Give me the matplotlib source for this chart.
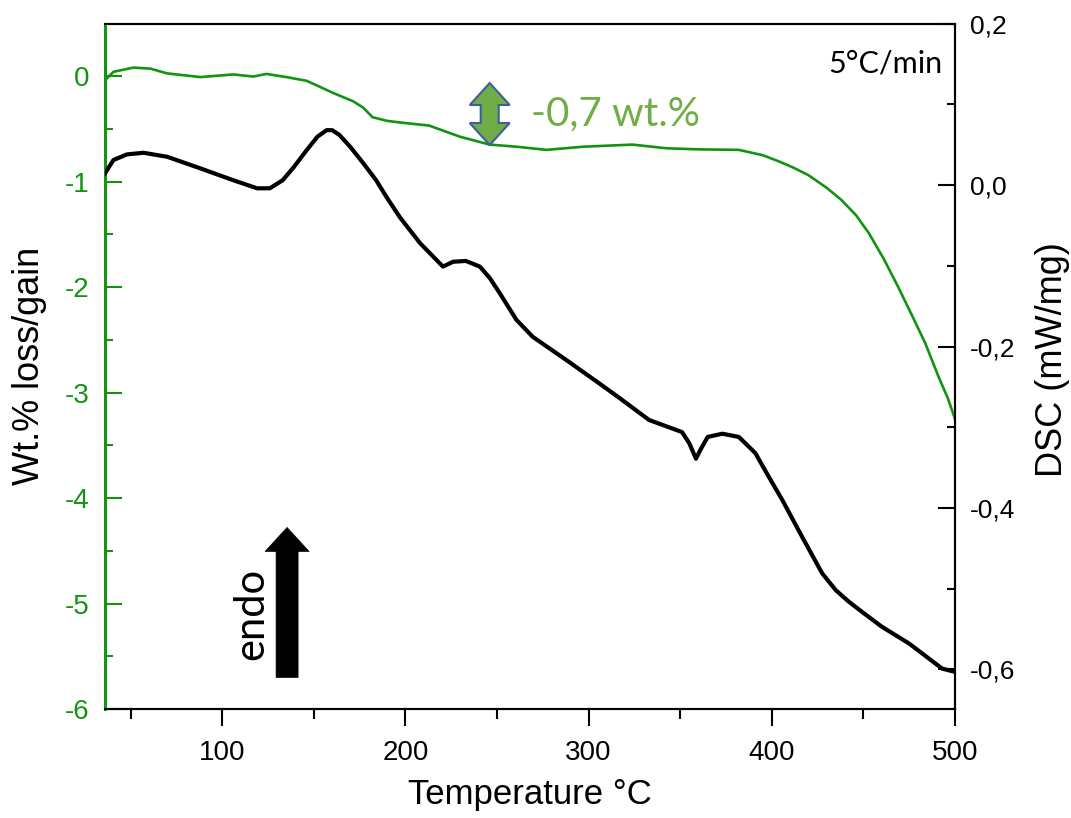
import matplotlib
matplotlib.use("Agg")
import matplotlib.pyplot as plt
import matplotlib.transforms as mtransforms
from matplotlib.patches import Polygon
from matplotlib.ticker import MultipleLocator, FuncFormatter

# ---- data ----
temp_tg = [36, 40.6, 51.5, 60.8, 69.9, 88, 106, 117, 124, 135, 146, 153, 160.5, 171.5, 177,
           182, 190, 197, 213, 229.7, 246, 260.6, 277, 297, 324, 342.5, 360, 382, 395, 404,
           412, 420, 430, 438, 446, 453, 461, 469, 476, 483.7, 491, 496, 500]
wt_change = [-0.04, 0.04, 0.08, 0.07, 0.025, -0.01, 0.015, -0.005, 0.02, -0.01, -0.045,
             -0.10, -0.16, -0.24, -0.30, -0.39, -0.425, -0.44, -0.47, -0.575, -0.65, -0.67,
             -0.70, -0.67, -0.65, -0.685, -0.695, -0.70, -0.75, -0.81, -0.87, -0.94, -1.06,
             -1.175, -1.32, -1.49, -1.73, -2.0, -2.25, -2.53, -2.85, -3.05, -3.25]

temp_dsc = [36, 40.6, 48, 57, 70, 88, 106, 119, 126, 133, 139, 146, 152, 157, 160, 164, 170,
            177, 184, 190, 197, 208, 220.5, 226, 233, 240.6, 246, 251.5, 260.6, 269.5, 288,
            306, 317, 333, 351, 355, 358.6, 361, 365, 373, 382, 391, 398, 405.7, 416.6,
            427.5, 435, 442, 450, 460, 475, 493, 500]
dsc = [0.0145, 0.031, 0.038, 0.040, 0.035, 0.0207, 0.006, -0.004, -0.004, 0.006, 0.022,
       0.043, 0.060, 0.068, 0.068, 0.062, 0.047, 0.027, 0.006, -0.016, -0.040, -0.072,
       -0.101, -0.095, -0.094, -0.101, -0.115, -0.134, -0.167, -0.188, -0.217, -0.246,
       -0.264, -0.291, -0.306, -0.320, -0.339, -0.328, -0.312, -0.308, -0.312, -0.332,
       -0.360, -0.390, -0.436, -0.481, -0.502, -0.516, -0.530, -0.547, -0.568, -0.599,
       -0.603]

x_ticks = [100, 200, 300, 400, 500]
left_ticks = [0, -1, -2, -3, -4, -5, -6]
right_ticks = [0.2, 0.0, -0.2, -0.4, -0.6]

GREEN = "#129412"
LIGHT_GREEN = "#70AD47"
ARIAL = ["Liberation Sans", "DejaVu Sans"]
CAL = ["Lato", "DejaVu Sans"]

fig = plt.figure(figsize=(10.71, 8.18), dpi=100)
ax = fig.add_axes([105/1071, 1 - 709/818, 850/1071, (709 - 23.6)/818])
ax2 = ax.twinx()

ax.plot(temp_tg, wt_change, color=GREEN, lw=1.9, zorder=3, solid_joinstyle="round")
ax2.plot(temp_dsc, dsc, color="black", lw=3.0, zorder=3, solid_joinstyle="round")

ax.set_xlim(36, 500)
ax.set_ylim(-6, 0.497)
ax2.set_ylim(-0.649, 0.2)

ax.set_xticks(x_ticks)
ax.xaxis.set_minor_locator(MultipleLocator(50))
ax.set_yticks(left_ticks)
ax.yaxis.set_minor_locator(MultipleLocator(0.5))
ax2.set_yticks(right_ticks)
ax2.yaxis.set_minor_locator(MultipleLocator(0.1))
ax2.yaxis.set_major_formatter(FuncFormatter(
    lambda v, p: "0,0" if abs(v) < 1e-9 else f"{v:.1f}".replace(".", ",")))
ax.yaxis.set_major_formatter(FuncFormatter(
    lambda v, p: "0" if abs(v) < 1e-9 else f"{v:.0f}"))

ax.tick_params(axis="x", which="major", direction="out", length=12, width=1.5, pad=10,
               labelsize=20, color="black")
ax.tick_params(axis="x", which="minor", direction="out", length=7, width=1.5)
ax.tick_params(axis="y", which="major", direction="in", length=12, width=1.5, pad=11,
               labelsize=20, color=GREEN, labelcolor=GREEN)
ax.tick_params(axis="y", which="minor", direction="in", length=6, width=1.5, color=GREEN)
ax2.tick_params(axis="y", which="major", direction="in", length=12, width=1.5, pad=11,
                labelsize=19, color="black")
ax2.tick_params(axis="y", which="minor", direction="in", length=6, width=1.5, color="black")
ax2.tick_params(axis="x", which="both", top=False)

for lab in ax.get_xticklabels() + ax.get_yticklabels() + ax2.get_yticklabels():
    lab.set_family(ARIAL)

for s in ["top", "right", "bottom"]:
    ax.spines[s].set_color("black")
    ax.spines[s].set_linewidth(1.5)
    ax2.spines[s].set_linewidth(1.5)
ax2.spines["left"].set_color(GREEN)
ax2.spines["left"].set_linewidth(2.0)
ax.spines["left"].set_color(GREEN)
ax.spines["left"].set_linewidth(2.0)

ax.set_xlabel("Temperature °C", fontsize=25, family=ARIAL)
ax.set_ylabel("Wt.% loss/gain", fontsize=26, family=ARIAL)
ax2.set_ylabel("DSC (mW/mg)", fontsize=26, family=ARIAL)
ax.xaxis.set_label_coords(0.5, -0.1)
ax.yaxis.set_label_coords(-0.068, 0.5)
ax2.yaxis.set_label_coords(1.094, 0.51)

# annotations
ax.text(0.9855, 0.962, "5°C/min", transform=ax.transAxes, ha="right", va="top",
        fontsize=22, family=CAL)
ax.text(268.5, -0.36, "-0,7 wt.%", color=LIGHT_GREEN, fontsize=29, ha="left", va="center",
        family=CAL)
ax.text(116, -5.1, "endo", rotation=90, fontsize=30, ha="center", va="center",
        family=CAL)


def arrow_shape(total, head_w, body_w, head_len, double):
    hl, hw, bw, h = head_len, head_w / 2, body_w / 2, total / 2
    if double:
        return [(0, h), (hw, h - hl), (bw, h - hl), (bw, -h + hl), (hw, -h + hl), (0, -h),
                (-hw, -h + hl), (-bw, -h + hl), (-bw, h - hl), (-hw, h - hl)]
    return [(0, h), (hw, h - hl), (bw, h - hl), (bw, -h), (-bw, -h), (-bw, h - hl), (-hw, h - hl)]


def place(shape_px, x, y, axis, **kw):
    # shape given in pixels relative to an anchor point in data coordinates
    tr = mtransforms.ScaledTranslation(x, y, axis.transData)
    poly = Polygon(shape_px, closed=True, transform=mtransforms.Affine2D() + tr, **kw)
    axis.add_patch(poly)


place(arrow_shape(62, 40, 18, 22, True), 246, -0.36, ax, facecolor=LIGHT_GREEN,
      edgecolor="#3E5F9C", lw=1.5, zorder=5)
place(arrow_shape(150, 44, 22, 24, False), 135.4, -4.99, ax, facecolor="black",
      edgecolor="black", lw=0.5, zorder=5)

fig.savefig("out.png", dpi=100)
